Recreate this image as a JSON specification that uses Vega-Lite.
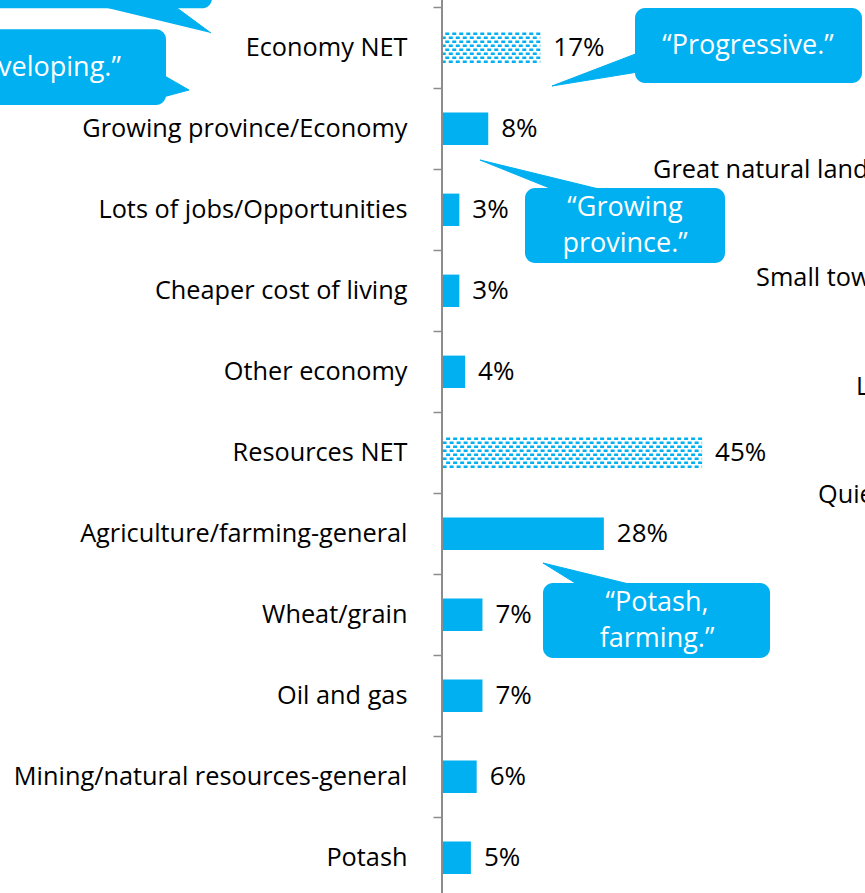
{
  "$schema": "https://vega.github.io/schema/vega-lite/v6.json",
  "width": 423,
  "height": 893,
  "autosize": {"type": "none"},
  "padding": {"left": 442, "top": 0, "right": 0, "bottom": 0},
  "background": "white",
  "config": {"view": {"stroke": null}, "font": "Open Sans"},
  "datasets": {
    "bars": [
      {"item": "Economy NET", "value": 0.17, "kind": "net"},
      {"item": "Growing province/Economy", "value": 0.08, "kind": "sub"},
      {"item": "Lots of jobs/Opportunities", "value": 0.03, "kind": "sub"},
      {"item": "Cheaper cost of living", "value": 0.03, "kind": "sub"},
      {"item": "Other economy", "value": 0.04, "kind": "sub"},
      {"item": "Resources NET", "value": 0.45, "kind": "net"},
      {"item": "Agriculture/farming-general", "value": 0.28, "kind": "sub"},
      {"item": "Wheat/grain", "value": 0.07, "kind": "sub"},
      {"item": "Oil and gas", "value": 0.07, "kind": "sub"},
      {"item": "Mining/natural resources-general", "value": 0.06, "kind": "sub"},
      {"item": "Potash", "value": 0.05, "kind": "sub"}
    ],
    "boxes": [
      {"id": "b1", "x1": -0.8166, "x2": -0.3979, "y1": -0.831, "y2": 0.0123, "tx": -0.6, "ty": -0.4, "t": ""},
      {"id": "b2", "x1": -0.8685, "x2": -0.4775, "y1": 0.2716, "y2": 1.2062, "tx": -0.7, "ty": 0.7494, "t": "“Developing.”"},
      {"id": "b3", "x1": 0.3339, "x2": 0.7266, "y1": 0.0086, "y2": 0.9346, "tx": 0.5294, "ty": 0.4778, "t": "“Progressive.”"},
      {"id": "b4", "x1": 0.1436, "x2": 0.4896, "y1": 2.2309, "y2": 3.1568, "tx": 0.3166, "ty": 2.478, "t": "“Growing\nprovince.”"},
      {"id": "b5", "x1": 0.1747, "x2": 0.5675, "y1": 7.1074, "y2": 8.0333, "tx": 0.372, "ty": 7.354, "t": "“Potash,\nfarming.”"}
    ],
    "tri": [
      {"id": "t1", "k": 1, "x": -0.6003, "y": -0.0284},
      {"id": "t1", "k": 2, "x": -0.4654, "y": -0.0284},
      {"id": "t1", "k": 3, "x": -0.3997, "y": 0.3173},
      {"id": "t2", "k": 1, "x": -0.4827, "y": 0.8358},
      {"id": "t2", "k": 2, "x": -0.4377, "y": 1.021},
      {"id": "t2", "k": 3, "x": -0.4827, "y": 1.1074},
      {"id": "t3", "k": 1, "x": 0.3391, "y": 0.5642},
      {"id": "t3", "k": 2, "x": 0.1903, "y": 0.9716},
      {"id": "t3", "k": 3, "x": 0.3391, "y": 0.7988},
      {"id": "t4", "k": 1, "x": 0.199, "y": 2.2679},
      {"id": "t4", "k": 2, "x": 0.0657, "y": 1.8852},
      {"id": "t4", "k": 3, "x": 0.2855, "y": 2.2679},
      {"id": "t5", "k": 1, "x": 0.2388, "y": 7.1444},
      {"id": "t5", "k": 2, "x": 0.1747, "y": 6.8605},
      {"id": "t5", "k": 3, "x": 0.3374, "y": 7.1444}
    ],
    "notes": [
      {"t": "Great natural landscape", "x": 0.3651, "y": 2.0086},
      {"t": "Small towns", "x": 0.5433, "y": 3.342},
      {"t": "Lakes", "x": 0.7163, "y": 4.6877},
      {"t": "Quiet", "x": 0.6505, "y": 6.021}
    ],
    "axisline": [{"x": 0, "y": -0.0901, "y2": 10.934}]
  },
  "layer": [
    {
      "data": {"name": "bars"},
      "encoding": {
        "y": {
          "field": "item",
          "type": "nominal",
          "sort": null,
          "scale": {
            "domain": ["Economy NET", "Growing province/Economy", "Lots of jobs/Opportunities", "Cheaper cost of living", "Other economy", "Resources NET", "Agriculture/farming-general", "Wheat/grain", "Oil and gas", "Mining/natural resources-general", "Potash"],
            "range": [7.3, 898.3],
            "paddingInner": 0,
            "paddingOuter": 0
          },
          "axis": {
            "title": null,
            "domain": false,
            "ticks": true,
            "tickBand": "extent",
            "tickSize": 9,
            "tickColor": "#8c8c8c",
            "tickWidth": 1.5,
            "labelFont": "Open Sans",
            "labelFontSize": 25.3,
            "labelColor": "#000000",
            "labelPadding": 26,
            "labelLimit": 0
          }
        }
      },
      "layer": [
        {
          "transform": [{"filter": {"field": "kind", "equal": "sub"}}],
          "mark": {"type": "bar", "color": "#00B0F0", "height": {"band": 0.4}},
          "encoding": {
            "x": {"field": "value", "type": "quantitative", "axis": null, "scale": {"domain": [0, 0.7318], "nice": false}}
          }
        },
        {
          "transform": [{"filter": {"field": "kind", "equal": "net"}}],
          "mark": {"type": "rule", "color": "#00B0F0", "strokeWidth": 2.6, "strokeDash": [4, 3], "strokeDashOffset": 0, "yOffset": -14},
          "encoding": {"x": {"field": "value", "type": "quantitative", "axis": null}, "x2": {"datum": 0}}
        },
        {
          "transform": [{"filter": {"field": "kind", "equal": "net"}}],
          "mark": {"type": "rule", "color": "#00B0F0", "strokeWidth": 2.6, "strokeDash": [4, 3], "strokeDashOffset": 3.5, "yOffset": -10},
          "encoding": {"x": {"field": "value", "type": "quantitative", "axis": null}, "x2": {"datum": 0}}
        },
        {
          "transform": [{"filter": {"field": "kind", "equal": "net"}}],
          "mark": {"type": "rule", "color": "#00B0F0", "strokeWidth": 2.6, "strokeDash": [4, 3], "strokeDashOffset": 0, "yOffset": -6},
          "encoding": {"x": {"field": "value", "type": "quantitative", "axis": null}, "x2": {"datum": 0}}
        },
        {
          "transform": [{"filter": {"field": "kind", "equal": "net"}}],
          "mark": {"type": "rule", "color": "#00B0F0", "strokeWidth": 2.6, "strokeDash": [4, 3], "strokeDashOffset": 3.5, "yOffset": -2},
          "encoding": {"x": {"field": "value", "type": "quantitative", "axis": null}, "x2": {"datum": 0}}
        },
        {
          "transform": [{"filter": {"field": "kind", "equal": "net"}}],
          "mark": {"type": "rule", "color": "#00B0F0", "strokeWidth": 2.6, "strokeDash": [4, 3], "strokeDashOffset": 0, "yOffset": 2},
          "encoding": {"x": {"field": "value", "type": "quantitative", "axis": null}, "x2": {"datum": 0}}
        },
        {
          "transform": [{"filter": {"field": "kind", "equal": "net"}}],
          "mark": {"type": "rule", "color": "#00B0F0", "strokeWidth": 2.6, "strokeDash": [4, 3], "strokeDashOffset": 3.5, "yOffset": 6},
          "encoding": {"x": {"field": "value", "type": "quantitative", "axis": null}, "x2": {"datum": 0}}
        },
        {
          "transform": [{"filter": {"field": "kind", "equal": "net"}}],
          "mark": {"type": "rule", "color": "#00B0F0", "strokeWidth": 2.6, "strokeDash": [4, 3], "strokeDashOffset": 0, "yOffset": 10},
          "encoding": {"x": {"field": "value", "type": "quantitative", "axis": null}, "x2": {"datum": 0}}
        },
        {
          "transform": [{"filter": {"field": "kind", "equal": "net"}}],
          "mark": {"type": "rule", "color": "#00B0F0", "strokeWidth": 2.6, "strokeDash": [4, 3], "strokeDashOffset": 3.5, "yOffset": 14},
          "encoding": {"x": {"field": "value", "type": "quantitative", "axis": null}, "x2": {"datum": 0}}
        },
        {
          "mark": {"type": "text", "align": "left", "baseline": "middle", "dx": 13, "fontSize": 26, "color": "#000000", "font": "Open Sans"},
          "encoding": {
            "x": {"field": "value", "type": "quantitative", "axis": null},
            "text": {"field": "value", "type": "quantitative", "format": ".0%"}
          }
        }
      ]
    },
    {
      "layer": [
        {
          "data": {"name": "axisline"},
          "mark": {"type": "rule", "color": "#8c8c8c", "strokeWidth": 2},
          "encoding": {
            "x": {"field": "x", "type": "quantitative", "axis": null},
            "y": {"field": "y", "type": "quantitative", "axis": null, "scale": {"domain": [0, 11], "range": [7.3, 898.3], "nice": false, "zero": false}},
            "y2": {"field": "y2"}
          }
        },
        {
          "data": {"name": "tri"},
          "mark": {"type": "line", "color": "#00B0F0", "fill": "#00B0F0", "strokeWidth": 1, "interpolate": "linear"},
          "encoding": {
            "x": {"field": "x", "type": "quantitative", "axis": null},
            "y": {"field": "y", "type": "quantitative", "axis": null, "scale": {"domain": [0, 11], "range": [7.3, 898.3], "nice": false, "zero": false}},
            "detail": {"field": "id"},
            "order": {"field": "k", "type": "quantitative"}
          }
        },
        {
          "data": {"name": "boxes"},
          "mark": {"type": "rect", "color": "#00B0F0", "cornerRadius": 10},
          "encoding": {
            "x": {"field": "x1", "type": "quantitative", "axis": null},
            "x2": {"field": "x2"},
            "y": {"field": "y1", "type": "quantitative", "axis": null, "scale": {"domain": [0, 11], "range": [7.3, 898.3], "nice": false, "zero": false}},
            "y2": {"field": "y2"}
          }
        },
        {
          "data": {"name": "boxes"},
          "mark": {"type": "text", "color": "#ffffff", "fontSize": 27, "align": "center", "baseline": "middle", "lineBreak": "\n", "lineHeight": 36, "font": "Open Sans"},
          "encoding": {
            "x": {"field": "tx", "type": "quantitative", "axis": null},
            "y": {"field": "ty", "type": "quantitative", "axis": null, "scale": {"domain": [0, 11], "range": [7.3, 898.3], "nice": false, "zero": false}},
            "text": {"field": "t", "type": "nominal"}
          }
        },
        {
          "data": {"name": "notes"},
          "mark": {"type": "text", "color": "#000000", "fontSize": 25.3, "align": "left", "baseline": "middle", "font": "Open Sans"},
          "encoding": {
            "x": {"field": "x", "type": "quantitative", "axis": null},
            "y": {"field": "y", "type": "quantitative", "axis": null, "scale": {"domain": [0, 11], "range": [7.3, 898.3], "nice": false, "zero": false}},
            "text": {"field": "t", "type": "nominal"}
          }
        }
      ]
    }
  ],
  "resolve": {"scale": {"y": "independent"}}
}
